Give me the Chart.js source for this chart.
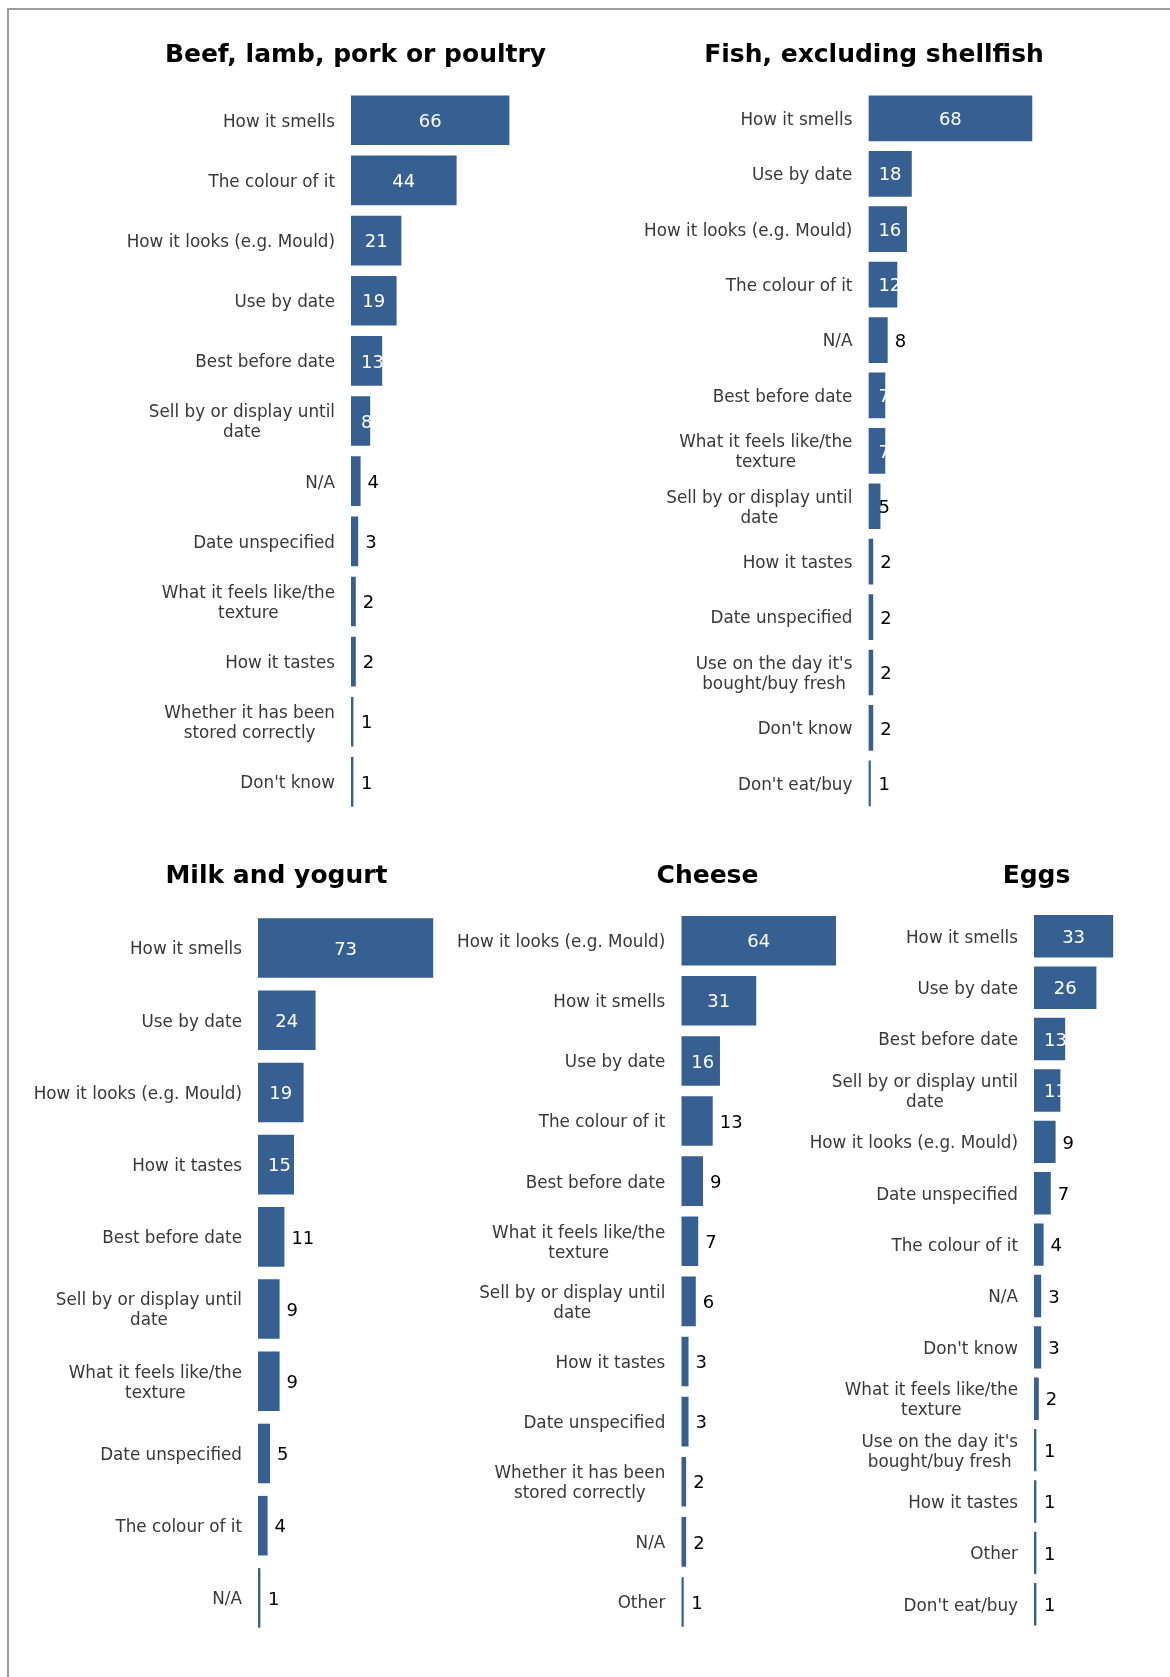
<!DOCTYPE html>
<html>
<head>
<meta charset="utf-8">
<script src="https://cdn.jsdelivr.net/npm/chart.js@4.4.1/dist/chart.umd.min.js"></script>
<style>
  html, body { margin: 0; padding: 0; background: #fff; }
  body { width: 1170px; height: 1677px; overflow: hidden; position: relative; }
  .frame { position: absolute; left: 7px; top: 8px; right: -10px; bottom: -10px;
           border-top: 2px solid #9c9c9c; border-left: 2px solid #9c9c9c; }
  canvas { position: absolute; }
</style>
</head>
<body>
<div class="frame"></div>
<canvas id="beef"></canvas>
<canvas id="fish"></canvas>
<canvas id="milk"></canvas>
<canvas id="cheese"></canvas>
<canvas id="eggs"></canvas>
<script>
// --- data ---
const beefLabels = ['How it smells', 'The colour of it', 'How it looks (e.g. Mould)', 'Use by date',
  'Best before date', ['Sell by or display until', 'date'], 'N/A', 'Date unspecified',
  ['What it feels like/the', 'texture'], 'How it tastes', ['Whether it has been', 'stored correctly'], "Don't know"];
const beefValues = [66, 44, 21, 19, 13, 8, 4, 3, 2, 2, 1, 1];

const fishLabels = ['How it smells', 'Use by date', 'How it looks (e.g. Mould)', 'The colour of it', 'N/A',
  'Best before date', ['What it feels like/the', 'texture'], ['Sell by or display until', 'date'],
  'How it tastes', 'Date unspecified', ["Use on the day it's", 'bought/buy fresh'], "Don't know", "Don't eat/buy"];
const fishValues = [68, 18, 16, 12, 8, 7, 7, 5, 2, 2, 2, 2, 1];

const milkLabels = ['How it smells', 'Use by date', 'How it looks (e.g. Mould)', 'How it tastes',
  'Best before date', ['Sell by or display until', 'date'], ['What it feels like/the', 'texture'],
  'Date unspecified', 'The colour of it', 'N/A'];
const milkValues = [73, 24, 19, 15, 11, 9, 9, 5, 4, 1];

const cheeseLabels = ['How it looks (e.g. Mould)', 'How it smells', 'Use by date', 'The colour of it',
  'Best before date', ['What it feels like/the', 'texture'], ['Sell by or display until', 'date'],
  'How it tastes', 'Date unspecified', ['Whether it has been', 'stored correctly'], 'N/A', 'Other'];
const cheeseValues = [64, 31, 16, 13, 9, 7, 6, 3, 3, 2, 2, 1];

const eggsLabels = ['How it smells', 'Use by date', 'Best before date', ['Sell by or display until', 'date'],
  'How it looks (e.g. Mould)', 'Date unspecified', 'The colour of it', 'N/A', "Don't know",
  ['What it feels like/the', 'texture'], ["Use on the day it's", 'bought/buy fresh'], 'How it tastes',
  'Other', "Don't eat/buy"];
const eggsValues = [33, 26, 13, 11, 9, 7, 4, 3, 3, 2, 1, 1, 1, 1];

// --- look ---
const BAR = '#376092';
const LABEL_FONT = '16.8px "DejaVu Sans", sans-serif';
const VALUE_FONT = '18px "DejaVu Sans", sans-serif';

// value label modes: w = white in bar, k = black after bar, b = black in bar
const panels = [
  { id: 'beef', title: 'Beef, lamb, pork or poultry', labels: beefLabels, values: beefValues,
    left: 110, top: 0, width: 491, height: 812, base: 351, unit: 2.40, titleY: 55.5, areaTop: 90.2,
    modes: 'wwwwwwkkkkkk' },
  { id: 'fish', title: 'Fish, excluding shellfish', labels: fishLabels, values: fishValues,
    left: 620, top: 0, width: 508, height: 811, base: 868.4, unit: 2.41, titleY: 55.5, areaTop: 90.7,
    modes: 'wwwwkwwbkkkkk' },
  { id: 'milk', title: 'Milk and yogurt', labels: milkLabels, values: milkValues,
    left: 20, top: 830, width: 513, height: 804, base: 258, unit: 2.40, titleY: 876.3, areaTop: 911.9,
    modes: 'wwwwkkkkkk' },
  { id: 'cheese', title: 'Cheese', labels: cheeseLabels, values: cheeseValues,
    left: 440, top: 830, width: 535, height: 802, base: 681.3, unit: 2.417, titleY: 876.3, areaTop: 910.65,
    modes: 'wwwkkkkkkkkk' },
  { id: 'eggs', title: 'Eggs', labels: eggsLabels, values: eggsValues,
    left: 790, top: 830, width: 493, height: 800, base: 1034, unit: 2.40, titleY: 876.3, areaTop: 910.6,
    modes: 'wwwwkkkkkkkkkk' }
];

// category text left of the axis and the numbers on/after each bar
const barText = {
  id: 'barText',
  afterDatasetsDraw(chart, args, opts) {
    const ctx = chart.ctx;
    const yScale = chart.scales.y;
    const area = chart.chartArea;
    const meta = chart.getDatasetMeta(0);
    ctx.save();
    ctx.textBaseline = 'middle';

    ctx.font = LABEL_FONT;
    ctx.fillStyle = '#383838';
    ctx.textAlign = 'center';
    chart.data.labels.forEach((lab, i) => {
      const lines = [].concat(lab);
      const w = Math.max(...lines.map(l => ctx.measureText(l).width));
      const cx = area.left - 16 - w / 2;
      const cy = yScale.getPixelForValue(i) + 2;
      lines.forEach((l, j) => ctx.fillText(l, cx, cy + (j - (lines.length - 1) / 2) * 20));
    });

    ctx.font = VALUE_FONT;
    ctx.textAlign = 'left';
    chart.data.datasets[0].data.forEach((v, i) => {
      const bar = meta.data[i];
      const text = String(v);
      const w = ctx.measureText(text).width;
      const mode = opts.modes[i];
      let x;
      if (mode === 'k') x = Math.max(bar.base + 10, bar.x + 7);
      else x = Math.max(bar.base + 10, (bar.base + bar.x) / 2 - w / 2);
      ctx.fillStyle = mode === 'w' ? '#ffffff' : '#000000';
      ctx.fillText(text, x, bar.y + 2);
    });
    ctx.restore();
  }
};

panels.forEach(p => {
  const canvas = document.getElementById(p.id);
  canvas.width = p.width;
  canvas.height = p.height;
  canvas.style.left = p.left + 'px';
  canvas.style.top = p.top + 'px';
  canvas.style.width = p.width + 'px';
  canvas.style.height = p.height + 'px';

  const axisWidth = p.base - p.left;
  const xMax = (p.left + p.width - p.base) / p.unit;

  new Chart(canvas, {
    type: 'bar',
    data: {
      labels: p.labels,
      datasets: [{
        data: p.values,
        backgroundColor: BAR,
        borderWidth: 0,
        barPercentage: 0.825,
        categoryPercentage: 1
      }]
    },
    options: {
      indexAxis: 'y',
      responsive: false,
      animation: false,
      devicePixelRatio: 1,
      layout: { padding: 0 },
      scales: {
        x: { display: false, min: 0, max: xMax },
        y: {
          display: true,
          grid: { display: false },
          border: { display: false },
          ticks: { display: false },
          afterFit: s => { s.width = axisWidth; }
        }
      },
      plugins: {
        legend: { display: false },
        tooltip: { enabled: false },
        title: {
          display: true,
          text: p.title,
          color: '#000',
          font: { family: '"DejaVu Sans", sans-serif', size: 25, weight: 'bold', lineHeight: 1.2 },
          padding: { top: p.titleY - 15 - p.top, bottom: p.areaTop - p.titleY - 15 }
        },
        barText: { modes: p.modes }
      }
    },
    plugins: [barText]
  });
});
</script>
</body>
</html>
